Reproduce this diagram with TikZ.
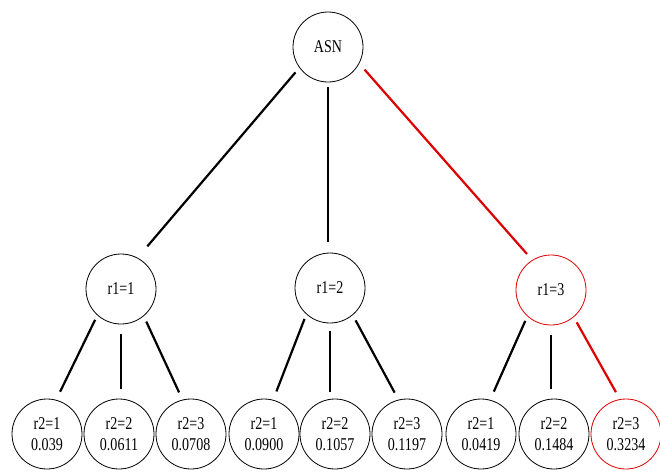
\documentclass[tikz,border=0pt]{standalone}
\usepackage{fontspec}
\setmainfont{Liberation Serif}[FakeStretch=0.78]
\usetikzlibrary{positioning}
\definecolor{PathRed}{RGB}{220, 0, 0}
\newcommand{\cnode}[3]{
    \node(#1)[
        draw,
        circle,
        line width=0.8pt,
        minimum size=70pt,
        inner sep=0pt,
        %text centered,
        align=center,
        font=\fontsize{18}{21}\selectfont,
        #2
    ]{#3};
}
\tikzset{
    branch/.style={line width=2.2pt, shorten <=6pt, shorten >=9pt},
    stem/.style={line width=2.2pt, shorten <=10pt, shorten >=10pt},
    best/.style={color=PathRed}
}

\begin{document}
\begin{tikzpicture}[x=1pt, y=-1pt]
	\useasboundingbox (0,0) rectangle (660,472);

	\cnode{asn}{at={(328,47)}}{ASN}

	\cnode{r1a}{at={(121,289)}}{r1=1}
	\cnode{r1b}{at={(330,288)}}{r1=2}
	\cnode{r1c}{at={(551,290)}, draw=PathRed}{r1=3}

	\cnode{b1}{at={(47,434)}}{r2=1\\0.039}
	\cnode{b2}{at={(119,434)}}{r2=2\\0.0611}
	\cnode{b3}{at={(191,434)}}{r2=3\\0.0708}
	\cnode{b4}{at={(264,434)}}{r2=1\\0.0900}
	\cnode{b5}{at={(335,434)}}{r2=2\\0.1057}
	\cnode{b6}{at={(407,434)}}{r2=3\\0.1197}
	\cnode{b7}{at={(481,434)}}{r2=1\\0.0419}
	\cnode{b8}{at={(554,434)}}{r2=2\\0.1484}
	\cnode{b9}{at={(626,434)}, draw=PathRed}{r2=3\\0.3234}

	% first level
	\draw[branch, shorten >=15pt] (asn.216) -- (r1a.62);
	\draw[stem, shorten <=5pt, shorten >=11pt] (asn.south) -- (asn.south |- r1b.north);
	\draw[branch, best, shorten <=8pt, shorten >=8pt] (asn.-28) -- (r1c.122);

	% second level
	\draw[branch, shorten <=5pt] (r1a.228) -- (b1.75);
	\draw[stem] (r1a.south) -- (r1a.south |- b2.north);
	\draw[branch, shorten >=8pt] (r1a.-50) -- (b3.104);

	\draw[branch, shorten <=5pt] (r1b.228) -- (b4.75);
	\draw[stem, shorten <=8pt, shorten >=7pt] (r1b.south) -- (r1b.south |- b5.north);
	\draw[branch, shorten >=8pt] (r1b.-50) -- (b6.104);

	\draw[branch, shorten <=5pt] (r1c.228) -- (b7.75);
	\draw[stem] (r1c.south) -- (r1c.south |- b8.north);
	\draw[branch, best, shorten >=8pt] (r1c.-50) -- (b9.100);
\end{tikzpicture}
\end{document}
